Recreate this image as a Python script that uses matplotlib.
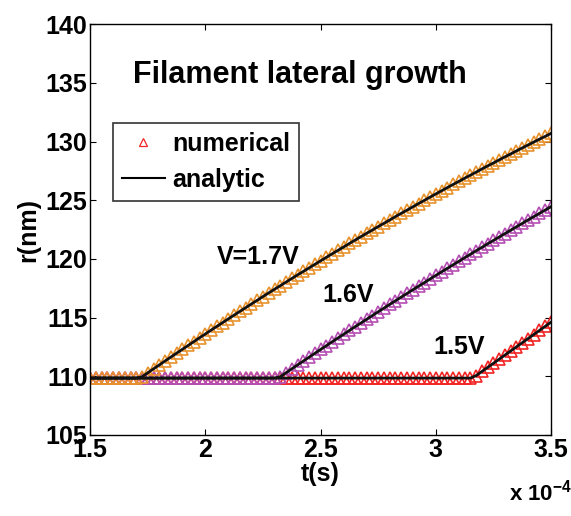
import numpy as np
import matplotlib
matplotlib.use("Agg")
import matplotlib.pyplot as plt
from matplotlib.ticker import FuncFormatter

plt.rcParams['font.family'] = ['Liberation Sans', 'DejaVu Sans']
plt.rcParams['font.weight'] = 'bold'
plt.rcParams['mathtext.fontset'] = 'custom'
plt.rcParams['mathtext.bf'] = 'Liberation Sans:bold'
plt.rcParams['mathtext.rm'] = 'Liberation Sans:bold'

# time grid (s), 1.5e-4 .. 3.5e-4 in steps of 0.025e-4
t = np.linspace(1.5e-4, 3.5e-4, 81)

r_17 = [109.85] * 9 + [
    109.96, 110.30, 110.64, 110.97, 111.31, 111.64, 111.97, 112.30, 112.63, 112.96,
    113.29, 113.61, 113.94, 114.26, 114.58, 114.90, 115.22, 115.54, 115.85, 116.17,
    116.48, 116.80, 117.11, 117.42, 117.72, 118.03, 118.34, 118.64, 118.94, 119.24,
    119.54, 119.84, 120.14, 120.44, 120.73, 121.02, 121.32, 121.61, 121.90, 122.19,
    122.47, 122.76, 123.04, 123.32, 123.61, 123.89, 124.16, 124.44, 124.72, 124.99,
    125.27, 125.54, 125.81, 126.08, 126.35, 126.61, 126.88, 127.14, 127.40, 127.67,
    127.93, 128.18, 128.44, 128.70, 128.95, 129.21, 129.46, 129.71, 129.96, 130.21,
    130.45, 130.70]

r_16 = [109.85] * 33 + [
    109.97, 110.30, 110.64, 110.97, 111.30, 111.63, 111.96, 112.29, 112.61, 112.94,
    113.26, 113.58, 113.91, 114.23, 114.54, 114.86, 115.18, 115.50, 115.81, 116.13,
    116.44, 116.75, 117.06, 117.37, 117.68, 117.98, 118.29, 118.60, 118.90, 119.20,
    119.50, 119.80, 120.10, 120.40, 120.70, 120.99, 121.29, 121.58, 121.87, 122.16,
    122.45, 122.74, 123.03, 123.32, 123.60, 123.89, 124.17, 124.45]

r_15 = [109.85] * 67 + [
    110.06, 110.41, 110.76, 111.11, 111.46, 111.81, 112.16, 112.51, 112.86, 113.21,
    113.56, 113.91, 114.26, 114.61]

series = [(r_15, '#F22424'), (r_16, '#B54FB3'), (r_17, '#E8922E')]

fig = plt.figure(figsize=(5.71, 5.16), dpi=100)
ax = fig.add_axes([0.158, 0.157, 0.807, 0.796])

for r, c in series:
    ax.plot(t, r, linestyle='none', marker='^', ms=8, mfc='none', mec=c, mew=1.2)
for r, c in series:
    ax.plot(t, r, color='#111111', lw=2)

# legend proxies
h1, = ax.plot([], [], linestyle='none', marker='^', ms=6, mfc='none', mec='#F22424', mew=0.9)
h2, = ax.plot([], [], color='black', lw=1.5)
leg = ax.legend([h1, h2], ['numerical', 'analytic'], loc='upper left',
                bbox_to_anchor=(0.05, 0.76), fontsize=18, frameon=True, fancybox=False,
                handlelength=1.7, handletextpad=0.3, borderpad=0.35, labelspacing=0.5,
                borderaxespad=0)
leg.get_frame().set_edgecolor('black')
leg.get_frame().set_linewidth(1.2)

ax.set_xlim(1.5e-4, 3.5e-4)
ax.set_ylim(105, 140)
ax.set_xticks([1.5e-4, 2e-4, 2.5e-4, 3e-4, 3.5e-4])
ax.set_yticks(range(105, 141, 5))
ax.xaxis.set_major_formatter(FuncFormatter(lambda v, p: '%g' % round(v * 1e4, 2)))
ax.tick_params(direction='in', top=True, right=True, length=4, width=0.8,
               labelsize=18, pad=2)
for s in ax.spines.values():
    s.set_linewidth(1.0)

ax.set_xlabel('t(s)', fontsize=18, fontweight='bold', labelpad=0)
ax.set_ylabel('r(nm)', fontsize=18, fontweight='bold', labelpad=4)

ax.text(0.093, 0.876, 'Filament lateral growth', transform=ax.transAxes,
        fontsize=22, fontweight='bold', va='center', ha='left')
ax.text(0.275, 0.433, 'V=1.7V', transform=ax.transAxes, fontsize=18,
        fontweight='bold', va='center', ha='left')
ax.text(0.503, 0.341, '1.6V', transform=ax.transAxes, fontsize=18,
        fontweight='bold', va='center', ha='left')
ax.text(0.744, 0.214, '1.5V', transform=ax.transAxes, fontsize=18,
        fontweight='bold', va='center', ha='left')
ax.text(1.045, -0.14, r'x 10$^{\mathbf{-4}}$', transform=ax.transAxes,
        fontsize=16, fontweight='bold', va='center', ha='right')

fig.savefig('out.png', dpi=100)
